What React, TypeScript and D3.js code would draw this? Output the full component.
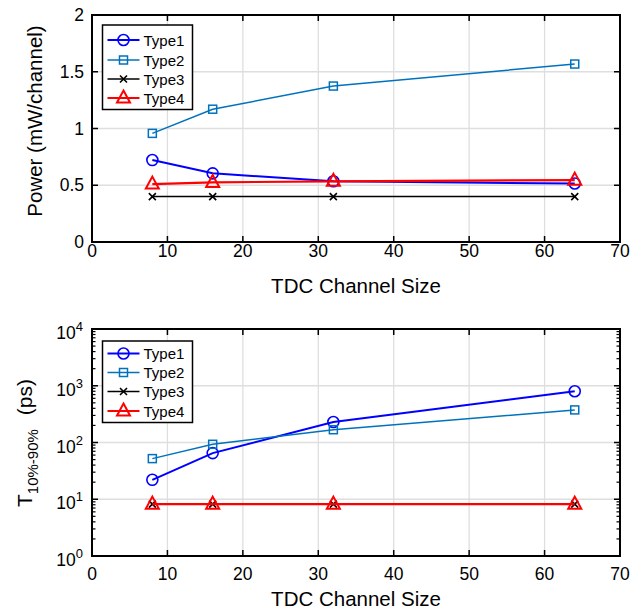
import React from "react";
import * as d3 from "d3";

const channelSizes = [8, 16, 32, 64];
const seriesNames = ["Type1", "Type2", "Type3", "Type4"];
const powerType1 = [0.722, 0.605, 0.535, 0.515];
const powerType2 = [0.957, 1.17, 1.374, 1.568];
const powerType3 = [0.4, 0.4, 0.4, 0.4];
const powerType4 = [0.51, 0.525, 0.535, 0.545];
const riseType1 = [22, 65, 230, 800];
const riseType2 = [52, 93, 168, 375];
const riseType3 = [8.2, 8.2, 8.2, 8.2];
const riseType4 = [8.2, 8.2, 8.2, 8.2];
const xTicks = [0, 10, 20, 30, 40, 50, 60, 70];
const powerTicks = [0, 0.5, 1, 1.5, 2];
const riseTicks = [1, 10, 100, 1000, 10000];

const colors = ["#0000ff", "#0072bd", "#000000", "#ff0000"];
const widths = [2, 1.5, 1.5, 2.2];
const markers = ["circle", "square", "x", "triangle"];
const FONT = "'Liberation Sans', Arial, Helvetica, sans-serif";

function Marker({ type, x, y, color }: { type: string; x: number; y: number; color: string }) {
  if (type === "circle")
    return <circle cx={x} cy={y} r={5.5} fill="none" stroke={color} strokeWidth={1.6} />;
  if (type === "square")
    return <rect x={x - 4} y={y - 4} width={8} height={8} fill="none" stroke={color} strokeWidth={1.5} />;
  if (type === "x")
    return (
      <path d={`M${x - 3.5},${y - 3.5}L${x + 3.5},${y + 3.5}M${x - 3.5},${y + 3.5}L${x + 3.5},${y - 3.5}`} stroke={color} strokeWidth={1.6} />
    );
  return (
    <path d={`M${x},${y - 7.5}L${x + 6.5},${y + 4.5}L${x - 6.5},${y + 4.5}Z`} fill="none" stroke={color} strokeWidth={2} />
  );
}

function Legend({ x0, y0, itemYs }: { x0: number; y0: number; itemYs: number[] }) {
  return (
    <g>
      <rect x={x0} y={y0} width={90} height={itemYs[3] + 11 - y0 + 0.5} fill="#fff" stroke="#000" strokeWidth={1.5} />
      {seriesNames.map((n, i) => (
        <g key={n}>
          <line x1={x0 + 5} x2={x0 + 37} y1={itemYs[i]} y2={itemYs[i]} stroke={colors[i]} strokeWidth={widths[i]} />
          <Marker type={markers[i]} x={x0 + 21} y={itemYs[i]} color={colors[i]} />
          <text x={x0 + 41} y={itemYs[i] + 5.5} fontSize={15} fontFamily={FONT} fill="#000">
            {n}
          </text>
        </g>
      ))}
    </g>
  );
}

export default function App() {
  const left = 92, right = 620;
  const x = d3.scaleLinear().domain([0, 70]).range([left, right]);

  // top panel
  const t1 = 15, b1 = 242;
  const yP = d3.scaleLinear().domain([0, 2]).range([b1, t1]);
  const powerSeries = [powerType1, powerType2, powerType3, powerType4];

  // bottom panel
  const t2 = 329, b2 = 556;
  const yR = d3.scaleLog().domain([1, 10000]).range([b2, t2]);
  const riseSeries = [riseType1, riseType2, riseType3, riseType4];
  const minorTicks: number[] = [];
  for (let d = 1; d < 10000; d *= 10) for (let k = 2; k <= 9; k++) minorTicks.push(d * k);

  const line = (ys: number[], yScale: any) =>
    d3.line<number>().x((_, i) => x(channelSizes[i])).y((v) => yScale(v))(ys) || "";

  const grid = "#dedede";

  return (
    <svg width={630} height={611} style={{ position: "absolute", left: 0, top: 0, background: "#fff" }}>
      <rect width={630} height={611} fill="#fff" />
      {/* ===== Top panel ===== */}
      <g>
        {xTicks.slice(1, -1).map((v) => (
          <line key={"gx" + v} x1={x(v)} x2={x(v)} y1={t1} y2={b1} stroke={grid} strokeWidth={1.3} />
        ))}
        {powerTicks.slice(1, -1).map((v) => (
          <line key={"gy" + v} x1={left} x2={right} y1={yP(v)} y2={yP(v)} stroke={grid} strokeWidth={1.3} />
        ))}
        {powerSeries.map((s, i) => (
          <g key={"ps" + i}>
            <path d={line(s, yP)} fill="none" stroke={colors[i]} strokeWidth={widths[i]} />
            {s.map((v, j) => (
              <Marker key={j} type={markers[i]} x={x(channelSizes[j])} y={yP(v)} color={colors[i]} />
            ))}
          </g>
        ))}
        {xTicks.map((v) => (
          <g key={"tx" + v}>
            <line x1={x(v)} x2={x(v)} y1={b1} y2={b1 - 6} stroke="#000" strokeWidth={1.5} />
            <line x1={x(v)} x2={x(v)} y1={t1} y2={t1 + 6} stroke="#000" strokeWidth={1.5} />
            <text x={x(v)} y={257} textAnchor="middle" fontSize={17.5} fontFamily={FONT}>
              {v}
            </text>
          </g>
        ))}
        {powerTicks.map((v) => (
          <g key={"ty" + v}>
            <line x1={left} x2={left + 6} y1={yP(v)} y2={yP(v)} stroke="#000" strokeWidth={1.5} />
            <line x1={right} x2={right - 6} y1={yP(v)} y2={yP(v)} stroke="#000" strokeWidth={1.5} />
            <text x={84} y={yP(v) + 6} textAnchor="end" fontSize={17.5} fontFamily={FONT}>
              {v}
            </text>
          </g>
        ))}
        <rect x={left} y={t1} width={right - left} height={b1 - t1} fill="none" stroke="#000" strokeWidth={2} />
        <Legend x0={102.5} y0={25} itemYs={[40, 60, 79, 98]} />
        <text x={356} y={293} textAnchor="middle" fontSize={20.5} fontFamily={FONT}>
          TDC Channel Size
        </text>
        <text transform={`translate(42,121) rotate(-90)`} textAnchor="middle" fontSize={20.5} fontFamily={FONT}>
          Power (mW/channel)
        </text>
      </g>

      {/* ===== Bottom panel ===== */}
      <g>
        {xTicks.slice(1, -1).map((v) => (
          <line key={"gx2" + v} x1={x(v)} x2={x(v)} y1={t2} y2={b2} stroke={grid} strokeWidth={1.3} />
        ))}
        {riseTicks.slice(1, -1).map((v) => (
          <line key={"gy2" + v} x1={left} x2={right} y1={yR(v)} y2={yR(v)} stroke={grid} strokeWidth={1.3} />
        ))}
        {riseSeries.map((s, i) => (
          <g key={"rs" + i}>
            <path d={line(s, yR)} fill="none" stroke={colors[i]} strokeWidth={widths[i]} />
            {s.map((v, j) => (
              <Marker key={j} type={markers[i]} x={x(channelSizes[j])} y={yR(v)} color={colors[i]} />
            ))}
          </g>
        ))}
        {xTicks.map((v) => (
          <g key={"tx2" + v}>
            <line x1={x(v)} x2={x(v)} y1={b2} y2={b2 - 6} stroke="#000" strokeWidth={1.5} />
            <line x1={x(v)} x2={x(v)} y1={t2} y2={t2 + 6} stroke="#000" strokeWidth={1.5} />
            <text x={x(v)} y={580} textAnchor="middle" fontSize={17.5} fontFamily={FONT}>
              {v}
            </text>
          </g>
        ))}
        {minorTicks.map((v) => (
          <g key={"mt" + v}>
            <line x1={left} x2={left + 3.5} y1={yR(v)} y2={yR(v)} stroke="#000" strokeWidth={1.2} />
            <line x1={right} x2={right - 3.5} y1={yR(v)} y2={yR(v)} stroke="#000" strokeWidth={1.2} />
          </g>
        ))}
        {riseTicks.map((v) => (
          <g key={"ty2" + v}>
            <line x1={left} x2={left + 6} y1={yR(v)} y2={yR(v)} stroke="#000" strokeWidth={1.5} />
            <line x1={right} x2={right - 6} y1={yR(v)} y2={yR(v)} stroke="#000" strokeWidth={1.5} />
            <text x={83} y={yR(v) + 10} textAnchor="end" fontSize={17.5} fontFamily={FONT}>
              10
              <tspan fontSize={13} dy={-8}>
                {Math.round(Math.log10(v))}
              </tspan>
            </text>
          </g>
        ))}
        <rect x={left} y={t2} width={right - left} height={b2 - t2} fill="none" stroke="#000" strokeWidth={2} />
        <Legend x0={102.5} y0={341} itemYs={[353.5, 372.5, 391.5, 411]} />
        <text x={356} y={606} textAnchor="middle" fontSize={20.5} fontFamily={FONT}>
          TDC Channel Size
        </text>
        <text transform={`translate(32,507) rotate(-90)`} textAnchor="start" fontSize={21} fontFamily={FONT}>
          T
          <tspan fontSize={15} dy={6}>10%-90%</tspan>
          <tspan fontSize={21} dy={-6} dx={14}>(ps)</tspan>
        </text>
      </g>
    </svg>
  );
}
